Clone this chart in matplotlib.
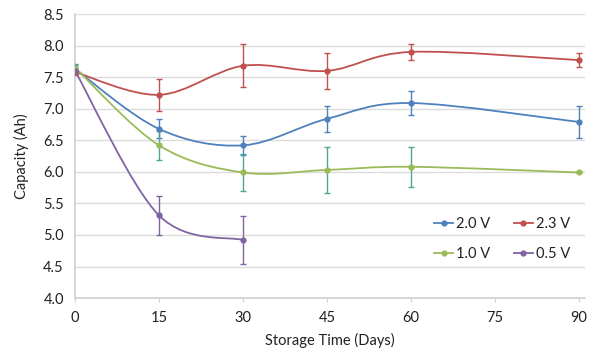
import numpy as np
import matplotlib
matplotlib.use("Agg")
import matplotlib.pyplot as plt
from matplotlib.path import Path
from matplotlib.patches import PathPatch

plt.rcParams['font.family'] = ['Lato', 'DejaVu Sans']

# storage days and capacities (Ah)
days = [0, 15, 30, 45, 60, 90]
days_05 = [0, 15, 30]

cap_20 = [7.63, 6.68, 6.42, 6.84, 7.09, 6.79]
err_20 = [0.06, 0.15, 0.15, 0.21, 0.19, 0.25]

cap_23 = [7.58, 7.22, 7.68, 7.60, 7.90, 7.77]
err_23 = [0.04, 0.25, 0.34, 0.29, 0.13, 0.11]

cap_10 = [7.65, 6.42, 5.99, 6.03, 6.08, 5.99]
err_10 = [0.06, 0.23, 0.29, 0.36, 0.32, 0.0]

cap_05 = [7.60, 5.31, 4.92]
err_05 = [0.05, 0.31, 0.38]

labels = ["2.0 V", "2.3 V", "1.0 V", "0.5 V"]
colors = ["#4f81bd", "#c0504d", "#9bbb59", "#8064a2"]
err_colors = ["#4f81bd", "#c0504d", "#4fa595", "#8064a2"]


def smooth_path(x, y):
    # excel style smoothed line: bezier segments through every point
    x = np.asarray(x, float)
    y = np.asarray(y, float)
    n = len(x)
    verts = [(x[0], y[0])]
    codes = [Path.MOVETO]
    for i in range(n - 1):
        p0 = max(i - 1, 0)
        p3 = min(i + 2, n - 1)
        c1 = (x[i] + (x[i + 1] - x[p0]) / 6, y[i] + (y[i + 1] - y[p0]) / 6)
        c2 = (x[i + 1] - (x[p3] - x[i]) / 6, y[i + 1] - (y[p3] - y[i]) / 6)
        verts += [c1, c2, (x[i + 1], y[i + 1])]
        codes += [Path.CURVE4] * 3
    return Path(verts, codes)


fig = plt.figure(figsize=(6, 3.6), dpi=100)
ax = fig.add_axes([0.125, 0.172, 0.85, 0.789])

series = [(days, cap_20, err_20), (days, cap_23, err_23),
          (days, cap_10, err_10), (days_05, cap_05, err_05)]

handles = []
for (x, y, e), lab, c, ec in zip(series, labels, colors, err_colors):
    ax.add_patch(PathPatch(smooth_path(x, y), facecolor="none", edgecolor=c, lw=1.3, zorder=3))
    ax.errorbar(x, y, yerr=e, fmt="none", ecolor=ec, elinewidth=1.0, capsize=2, capthick=1.0, zorder=4)
    ax.plot(x, y, "o", color=c, ms=3.5, zorder=5)
    h, = ax.plot([], [], "-o", color=c, lw=1.3, ms=3.5, label=lab)
    handles.append(h)

ax.set_xlim(0, 91.07)
ax.set_ylim(4.0, 8.5)
ax.set_xticks([0, 15, 30, 45, 60, 75, 90])
ax.set_yticks(np.arange(4.0, 8.51, 0.5))
ax.set_yticklabels(["%.1f" % v for v in np.arange(4.0, 8.51, 0.5)])
ax.grid(axis="y", color="#dcdcdc", lw=1)
ax.set_axisbelow(True)
for s in ["top", "right"]:
    ax.spines[s].set_visible(False)
for s in ["left", "bottom"]:
    ax.spines[s].set_color("#d0d0d0")
    ax.spines[s].set_linewidth(1.2)
ax.tick_params(axis="y", length=0, labelsize=10.5, pad=8, labelcolor="#222222")
ax.tick_params(axis="x", length=3, color="#d0d0d0", labelsize=10.5, pad=6, labelcolor="#222222")

ax.set_xlabel("Storage Time (Days)", fontsize=10.5, color="#222222", labelpad=6)
ax.set_ylabel("Capacity (Ah)", fontsize=10.5, color="#222222", labelpad=10)

# legend is filled column by column: rows read 2.0/2.3 then 1.0/0.5
order = [0, 2, 1, 3]
fig.legend(handles=[handles[i] for i in order], ncol=2, loc="center", bbox_to_anchor=(0.837, 0.335),
           frameon=False, fontsize=10.5, handlelength=1.3, handletextpad=0.2,
           columnspacing=1.6, labelspacing=1.1, labelcolor="#222222")

fig.savefig("out.png", dpi=100)
